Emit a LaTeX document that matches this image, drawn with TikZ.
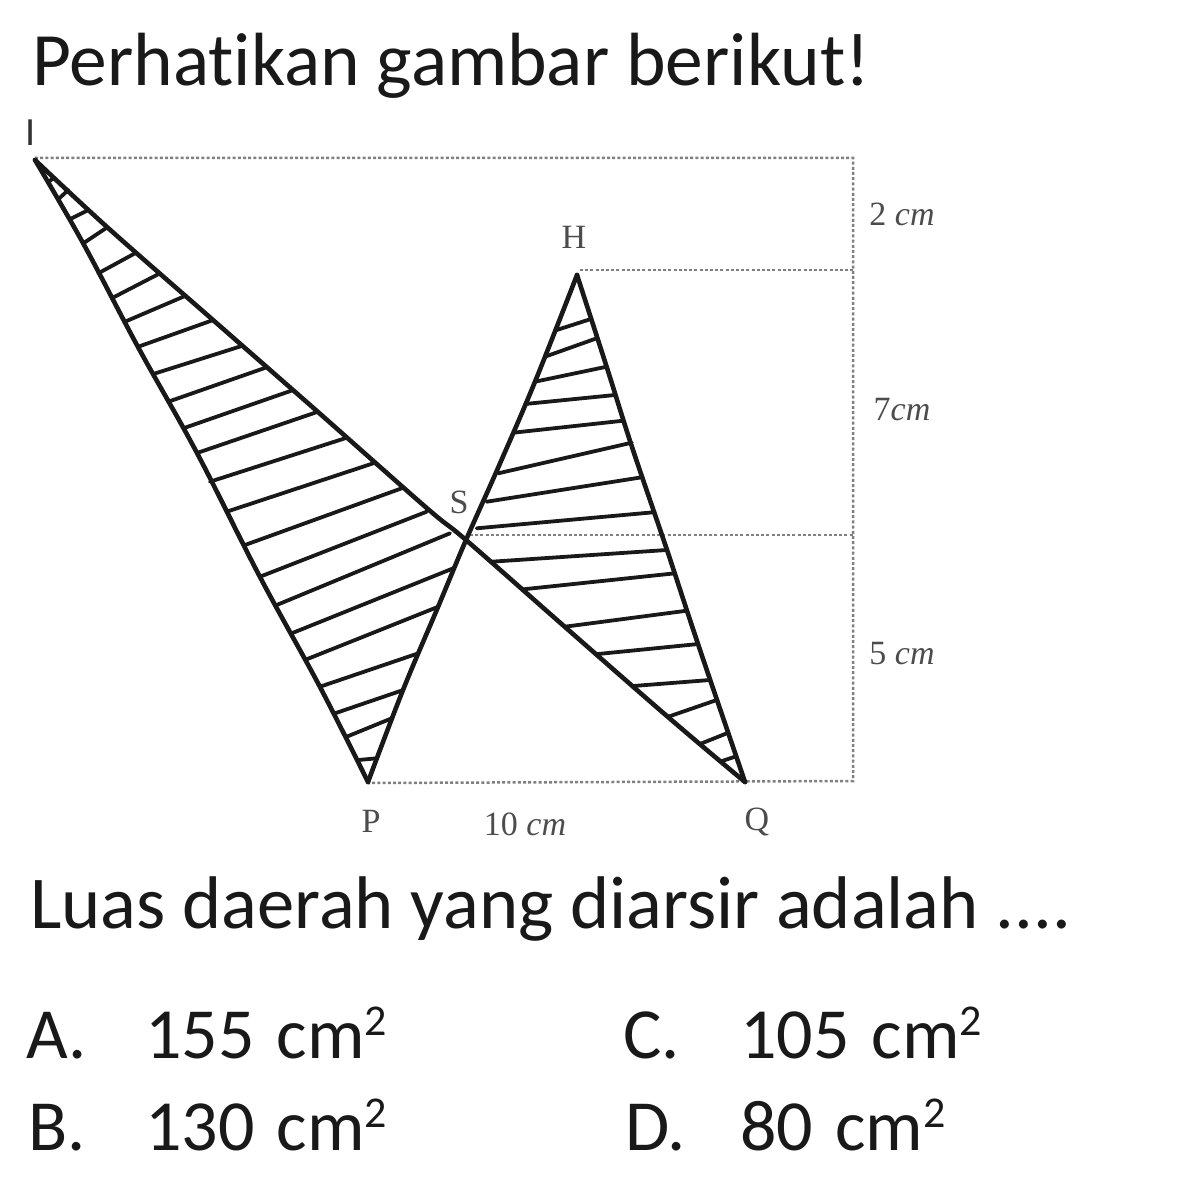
\documentclass[tikz,border=0pt]{standalone}
\usepackage{fontspec}
\setmainfont[Ligatures=CommonOff]{Carlito}
\newfontfamily\labelfont{Liberation Serif}
\tikzset{
  bigtext/.style={anchor=base west,inner sep=0pt,font=\fontsize{75.4}{77}\selectfont,text=black!90},
  asktext/.style={anchor=base west,inner sep=0pt,font=\fontsize{74.6}{77}\selectfont,text=black!90},
  opt/.style={anchor=base west,inner sep=0pt,font=\fontsize{72}{74}\selectfont,text=black!90},
  small/.style={anchor=base,inner sep=0pt,font=\labelfont\fontsize{34}{36}\selectfont,text=black!70},
  guide/.style={draw=black!50,line width=2.5pt,dash pattern=on 3pt off 2.2pt},
  edgeline/.style={draw=black!90,line width=4.6pt,line cap=round,line join=round},
  hatch/.style={draw=black!90,line width=3.8pt,line cap=round}
}
\newcommand{\sq}{\raisebox{0.66ex}{\fontsize{44}{44}\selectfont 2}}
\newcommand{\gap}{\hspace{22pt}}
\begin{document}
\begin{tikzpicture}[x=1pt,y=-1pt]
\useasboundingbox (0,0) rectangle (1179,1201);
\coordinate (TR) at (853,158);
\coordinate (TL) at (35,158);
\coordinate (HR) at (853,270);
\coordinate (HL) at (580,270);
\coordinate (SR) at (853,535);
\coordinate (SL) at (470,535);
\coordinate (BR) at (853,781);
\coordinate (BL) at (368,783);
% guides
\draw[guide] (TL) -- (TR) -- (BR) -- (BL);
\draw[guide] (HL) -- (HR);
\draw[guide] (SL) -- (SR);
% hatching
\foreach \a/\b/\c/\d in {
 48/182/54/178, 59.3/198.3/68.3/190, 71.7/218.3/88.3/210, 83.3/243.3/107.3/227.3,
 98.3/273.3/135/253.3, 111.7/298.3/160/273.3, 125/321.7/185/296, 138.3/346.7/213.3/320,
 153.3/374/241.7/346, 168.3/401.7/266.7/367.3, 183.3/428.3/293.3/390, 197/453/318/411.7,
 210/481.7/345/438.3, 226.7/511.7/373.3/463.3, 245/545/401.7/488.3, 260/576.7/426.7/511.7,
 276.7/605/450/533.3, 291.7/633.3/453.3/568.3, 306.7/659.3/438.3/606.7, 320/686.7/418.3/653.3,
 335/713.3/403.3/690, 346.7/736.7/391.7/718.3, 358.3/760/376.7/758.3,
 556.7/330/590/319.3, 545/356.7/596.7/338.3, 535/381.7/606.7/366.7, 525/404/615/395,
 513.3/432.7/623.3/420.7, 498.3/473.3/631.7/442.7, 486.7/501.7/641.7/477.3, 476.7/528.3/653.3/512.3,
 491.7/561.7/666.7/550, 523.3/589.3/675/573.3, 565/626.7/686.7/610.7, 595/654.3/698.3/644,
 633.3/686/710/680, 668.3/716.7/716.7/700, 700/744/728.3/732.7, 720/761.7/735/756.7}
 \draw[hatch] (\a,\b) -- (\c,\d);
% figure outline, slightly bowed as in the print
\draw[edgeline] plot[smooth,tension=0.6] coordinates {(35,160) (83,243) (138,347) (197,453) (260,577) (320,687) (368,782)};
\draw[edgeline] plot[smooth,tension=0.6] coordinates {(35,160) (107,227) (213,320) (318,412) (426.7,508) (466,540) (565,627) (668,717) (745,782)};
\draw[edgeline] plot[smooth,tension=0.6] coordinates {(368,782) (403,690) (438,607) (466,540) (498,468) (535,381.7) (577,275)};
\draw[edgeline] plot[smooth,tension=0.6] coordinates {(577,275) (606.7,367) (632,447) (667,550) (698,644) (745,782)};
% texts
\node[bigtext] (title) at (32,86) {Perhatikan gambar berikut!};
\node[asktext] (question) at (30,928) {Luas daerah yang diarsir adalah ....};
\node[anchor=base,inner sep=0pt,font=\fontsize{40}{42}\selectfont,text=black!80] (lI) at (31,146) {I};
\node[small] (lH) at (574,248) {H};
\node[small] (lS) at (459,513) {S};
\node[small] (lP) at (371,832) {P};
\node[small] (lQ) at (757,830) {Q};
\node[small] (l10) at (525,835) {10 \textit{cm}};
\node[small] (l2) at (902,225) {2 \textit{cm}};
\node[small] (l7) at (902,420) {7\textit{cm}};
\node[small] (l5) at (902,664) {5 \textit{cm}};
\node[opt] (A) at (26,1058) {A.};
\node[opt] (Av) at (145,1058) {155\gap cm\sq};
\node[opt] (B) at (28,1150) {B.};
\node[opt] (Bv) at (145,1150) {130\gap cm\sq};
\node[opt] (C) at (623,1058) {C.};
\node[opt] (Cv) at (740,1058) {105\gap cm\sq};
\node[opt] (D) at (625,1150) {D.};
\node[opt] (Dv) at (740,1150) {80\gap cm\sq};
\end{tikzpicture}
\end{document}
